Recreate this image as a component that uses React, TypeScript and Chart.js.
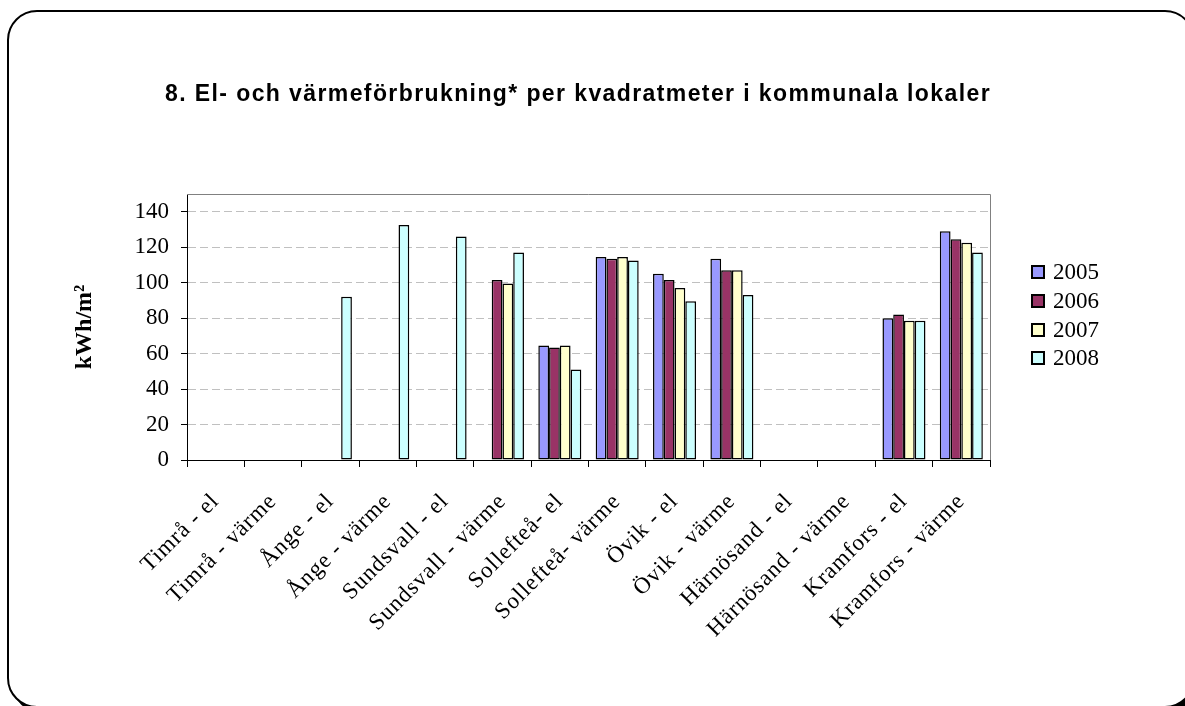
import React, { useEffect, useRef } from 'react';
import { Chart, registerables } from 'chart.js';

Chart.register(...registerables);

const TITLE = '8. El- och värmeförbrukning* per kvadratmeter i kommunala lokaler';
const Y_TITLE = 'kWh/m²';

const CATEGORIES = [
  'Timrå - el',
  'Timrå - värme',
  'Ånge - el',
  'Ånge - värme',
  'Sundsvall - el',
  'Sundsvall - värme',
  'Sollefteå- el',
  'Sollefteå- värme',
  'Övik - el',
  'Övik - värme',
  'Härnösand - el',
  'Härnösand - värme',
  'Kramfors - el',
  'Kramfors - värme',
];

const YEARS = ['2005', '2006', '2007', '2008'];

const S2005 = [null, null, null, null, null, null, 64.5, 114.5, 105, 113.5, null, null, 80, 129];
const S2006 = [null, null, null, null, null, 101.5, 63.5, 113.5, 101.5, 107, null, null, 82, 124.5];
const S2007 = [null, null, null, null, null, 99.5, 64.5, 114.5, 97, 107, null, null, 78.5, 122.5];
const S2008 = [null, null, 92, 132.5, 126, 117, 51, 112.5, 89.5, 93, null, null, 78.5, 117];

const SERIES = [S2005, S2006, S2007, S2008];
const COLORS = ['#9999FF', '#993366', '#FFFFCC', '#CCFFFF'];

const Y_TICKS = [0, 20, 40, 60, 80, 100, 120, 140];
const Y_MAX = 150;

const LEGEND_TOPS = [258, 287, 315.5, 344];

const plotFrame = {
  id: 'plotFrame',
  beforeDatasetsDraw(chart: any) {
    const { ctx, chartArea: a } = chart;
    ctx.save();
    ctx.strokeStyle = '#808080';
    ctx.lineWidth = 1;
    ctx.beginPath();
    ctx.moveTo(a.left, Math.round(a.top) + 0.5);
    ctx.lineTo(Math.round(a.right) + 0.5, Math.round(a.top) + 0.5);
    ctx.lineTo(Math.round(a.right) + 0.5, a.bottom);
    ctx.stroke();
    ctx.restore();
  },
  afterDatasetsDraw(chart: any) {
    (chart.ctx as any).letterSpacing = '0.9px';
  },
  afterDraw(chart: any) {
    (chart.ctx as any).letterSpacing = '0px';
  },
};

export default function App() {
  const ref = useRef<HTMLCanvasElement | null>(null);

  useEffect(() => {
    if (!ref.current) return;
    const chart = new Chart(ref.current, {
      type: 'bar',
      data: {
        labels: CATEGORIES,
        datasets: SERIES.map((d, i) => ({
          label: YEARS[i],
          data: d as any,
          backgroundColor: COLORS[i],
          borderColor: '#000000',
          borderWidth: 1.5,
          borderSkipped: false,
          categoryPercentage: 0.75,
          barPercentage: 1,
        })),
      },
      options: {
        animation: false,
        responsive: false,
        maintainAspectRatio: false,
        layout: { padding: { top: 194, right: 195, left: 0, bottom: 0 } },
        plugins: {
          legend: { display: false },
          title: { display: false },
          tooltip: { enabled: false },
        },
        scales: {
          x: {
            grid: {
              display: true,
              drawOnChartArea: false,
              drawTicks: true,
              tickLength: 7,
              color: '#000000',
              tickColor: '#000000',
              offset: true,
            },
            border: { display: true, color: '#000000', width: 1 },
            ticks: {
              autoSkip: false,
              maxRotation: 45,
              minRotation: 45,
              padding: 21,
              color: '#000000',
              font: { family: 'Liberation Serif', size: 23 },
              z: 1,
            },
            afterFit: (s: any) => {
              s.height = 246;
            },
          },
          y: {
            min: 0,
            max: Y_MAX,
            afterBuildTicks: (s: any) => {
              s.ticks = Y_TICKS.map((value) => ({ value }));
            },
            grid: {
              color: (c: any) => (c.tick && c.tick.value === 0 ? 'rgba(0,0,0,0)' : '#C0C0C0'),
              tickColor: '#000000',
              tickLength: 6,
              tickBorderDash: [],
              lineWidth: 1,
            },
            border: { display: true, color: '#000000', width: 1, dash: [8, 4] },
            ticks: {
              padding: 12,
              color: '#000000',
              font: { family: 'Liberation Serif', size: 23 },
            },
            title: {
              display: true,
              text: Y_TITLE,
              color: '#000000',
              font: { family: 'Liberation Serif', size: 24, weight: 'bold' },
              padding: { top: 70, bottom: 0 },
            },
            afterFit: (s: any) => {
              s.width = 187;
            },
          },
        },
      } as any,
      plugins: [plotFrame],
    });
    return () => chart.destroy();
  }, []);

  return (
    <div
      style={{
        position: 'fixed',
        left: 0,
        top: 0,
        width: 1185,
        height: 706,
        overflow: 'hidden',
        background: '#ffffff',
      }}
    >
      <div
        style={{
          position: 'absolute',
          left: 7,
          top: 10,
          width: 1188,
          height: 698,
          border: '2px solid #000',
          borderRadius: 30,
          boxShadow: '5px 5px 0 #000',
          background: '#ffffff',
          boxSizing: 'border-box',
        }}
      />
      <canvas ref={ref} width={1185} height={706} style={{ position: 'absolute', left: 0, top: 0 }} />
      <div
        style={{
          position: 'absolute',
          right: 194,
          top: 80,
          lineHeight: '28px',
          font: 'bold 23px "Liberation Sans", Arial, sans-serif',
          letterSpacing: '1.4px',
          whiteSpace: 'nowrap',
          color: '#000',
        }}
      >
        {TITLE}
      </div>
      {YEARS.map((y, i) => (
        <div
          key={y}
          style={{
            position: 'absolute',
            left: 1031,
            top: LEGEND_TOPS[i],
            height: 28,
            display: 'flex',
            alignItems: 'center',
            font: '23px "Liberation Serif", "Times New Roman", serif',
            lineHeight: '28px',
            color: '#000',
          }}
        >
          <span
            style={{
              display: 'inline-block',
              width: 14,
              height: 14,
              boxSizing: 'border-box',
              border: '2px solid #000',
              background: COLORS[i],
              marginRight: 8,
            }}
          />
          <span>{y}</span>
        </div>
      ))}
    </div>
  );
}
